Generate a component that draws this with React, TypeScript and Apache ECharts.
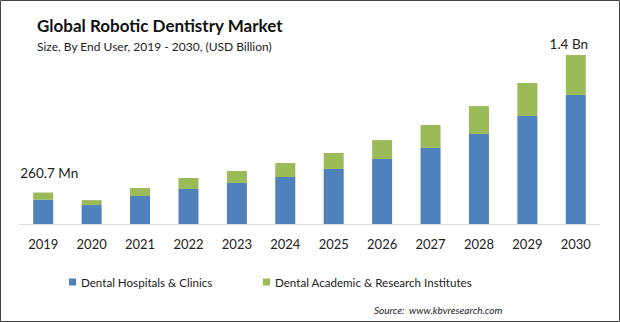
import React, { useEffect, useRef } from "react";
import * as echarts from "echarts";

const years = ["2019", "2020", "2021", "2022", "2023", "2024", "2025", "2026", "2027", "2028", "2029", "2030"];
const hospitals = [200.7, 157, 232, 290, 340, 389, 456, 538, 630, 745, 895, 1069];
const academic = [60, 41, 66, 91, 99, 116, 132, 157, 190, 232, 273, 331];
const seriesNames = ["Dental Hospitals & Clinics", "Dental Academic & Research Institutes"];
const firstLabel = "260.7 Mn";
const lastLabel = "1.4 Bn";

const FONT = "Lato, 'Open Sans', sans-serif";

export default function App() {
  const ref = useRef<HTMLDivElement>(null);
  useEffect(() => {
    document.body.style.margin = "0";
    const chart = echarts.init(ref.current!, null, { renderer: "svg" });
    const academicData = academic.map((v, i) => {
      if (i === 0) {
        return {
          value: v,
          label: { show: true, position: "top", formatter: firstLabel, offset: [6, -8], fontSize: 13.5, color: "#222", fontFamily: FONT },
        };
      }
      if (i === academic.length - 1) {
        return {
          value: v,
          label: { show: true, position: "top", formatter: lastLabel, offset: [-7, 1], fontSize: 13.5, color: "#222", fontFamily: FONT },
        };
      }
      return v;
    });
    const legendCommon = {
      top: 271,
      icon: "rect",
      itemWidth: 7,
      itemHeight: 7,
      textStyle: { fontSize: 11.6, color: "#222", fontFamily: FONT },
    };
    chart.setOption({
      animation: false,
      backgroundColor: "#fff",
      textStyle: { fontFamily: FONT },
      title: [
        { text: "Global Robotic Dentistry Market", left: 32, top: 12, textStyle: { fontSize: 17, fontWeight: "bold", color: "#111", fontFamily: FONT } },
        { text: "Size, By End User, 2019 - 2030, (USD Billion)", left: 32, top: 35, textStyle: { fontSize: 12, fontWeight: "normal", color: "#222", fontFamily: FONT } },
        { text: "Source:  www.kbvresearch.com", left: 369, top: 300, textStyle: { fontSize: 10, fontStyle: "italic", fontWeight: "normal", color: "#222", fontFamily: FONT } },
      ],
      legend: [
        { ...legendCommon, left: 64, data: [seriesNames[0]] },
        { ...legendCommon, left: 258, data: [seriesNames[1]] },
      ],
      grid: { left: 19, right: 20, top: 55, bottom: 98, containLabel: false },
      xAxis: {
        type: "category",
        data: years,
        axisLine: { lineStyle: { color: "#d9d9d9" } },
        axisTick: { show: false },
        axisLabel: { fontSize: 13, color: "#222", margin: 13, fontFamily: FONT },
      },
      yAxis: { type: "value", min: 0, max: 1400, show: false, splitLine: { show: false } },
      series: [
        { name: seriesNames[0], type: "bar", stack: "t", data: hospitals, barWidth: 20, itemStyle: { color: "#4F81BD" } },
        { name: seriesNames[1], type: "bar", stack: "t", data: academicData, barWidth: 20, itemStyle: { color: "#9BBB59" } },
      ],
      graphic: [
        { type: "rect", shape: { x: 0.5, y: 0.5, width: 619, height: 321 }, style: { fill: "none", stroke: "#444", lineWidth: 1 }, z: 100 },
      ],
    });
    return () => chart.dispose();
  }, []);
  return <div ref={ref} style={{ width: 620, height: 322 }} />;
}
